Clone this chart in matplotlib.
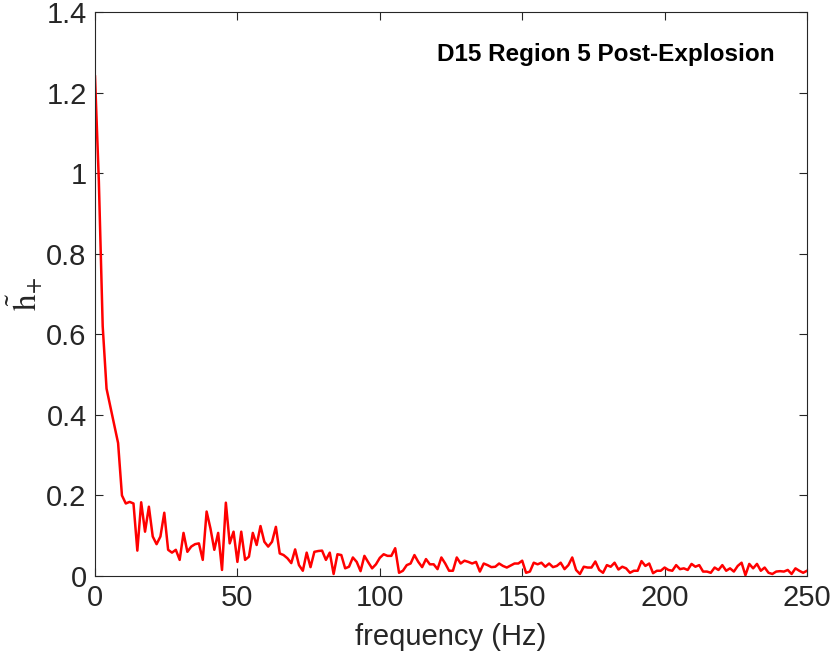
import numpy as np
import matplotlib
matplotlib.use("Agg")
import matplotlib.pyplot as plt

# spectrum amplitude, uniformly spaced 0..250 Hz
h_plus = [
    1.24, 0.98, 0.62, 0.465, 0.42, 0.375, 0.33, 0.20, 0.18, 0.184,
    0.180, 0.063, 0.183, 0.110, 0.172, 0.098, 0.079, 0.098, 0.157, 0.065,
    0.058, 0.065, 0.040, 0.107, 0.060, 0.073, 0.079, 0.081, 0.040, 0.160,
    0.118, 0.065, 0.107, 0.015, 0.182, 0.081, 0.110, 0.035, 0.110, 0.040,
    0.048, 0.107, 0.077, 0.124, 0.085, 0.073, 0.085, 0.122, 0.056, 0.052,
    0.044, 0.032, 0.066, 0.027, 0.013, 0.058, 0.022, 0.060, 0.062, 0.063,
    0.040, 0.058, 0.005, 0.054, 0.052, 0.019, 0.023, 0.046, 0.035, 0.012,
    0.050, 0.034, 0.019, 0.029, 0.045, 0.054, 0.050, 0.050, 0.069, 0.008,
    0.013, 0.027, 0.031, 0.052, 0.035, 0.022, 0.042, 0.029, 0.029, 0.017,
    0.046, 0.031, 0.013, 0.013, 0.046, 0.031, 0.038, 0.035, 0.031, 0.035,
    0.011, 0.031, 0.027, 0.022, 0.023, 0.031, 0.025, 0.021, 0.026, 0.031,
    0.031, 0.038, 0.008, 0.011, 0.033, 0.029, 0.033, 0.023, 0.031, 0.022,
    0.025, 0.033, 0.017, 0.027, 0.046, 0.015, 0.005, 0.023, 0.021, 0.021,
    0.036, 0.015, 0.008, 0.027, 0.023, 0.033, 0.016, 0.023, 0.019, 0.008,
    0.013, 0.013, 0.037, 0.025, 0.031, 0.007, 0.013, 0.013, 0.021, 0.015,
    0.013, 0.027, 0.017, 0.019, 0.015, 0.030, 0.023, 0.027, 0.011, 0.011,
    0.008, 0.021, 0.015, 0.027, 0.013, 0.019, 0.011, 0.025, 0.033, 0.002,
    0.030, 0.019, 0.030, 0.013, 0.021, 0.008, 0.005, 0.011, 0.012, 0.011,
    0.015, 0.005, 0.019, 0.013, 0.008, 0.013,
]
f_min, f_max = 0, 250
frequency = np.linspace(f_min, f_max, len(h_plus))

x_ticks = [0, 50, 100, 150, 200, 250]
y_ticks = [0, 0.2, 0.4, 0.6, 0.8, 1.0, 1.2, 1.4]
y_tick_labels = ["0", "0.2", "0.4", "0.6", "0.8", "1", "1.2", "1.4"]
title_text = "D15 Region 5 Post-Explosion"

plt.rcParams['font.family'] = ['Liberation Sans', 'DejaVu Sans']
plt.rcParams['mathtext.fontset'] = 'stix'

dark = '#262626'
fig = plt.figure(figsize=(8.3, 6.58), dpi=100)
ax = fig.add_axes([95/830, 1-576/658, (807-95)/830, (576-12)/658])

ax.plot(frequency, h_plus, color='#ff0000', lw=1.8)
ax.set_xlim(0, 250)
ax.set_ylim(0, 1.4)
ax.set_xticks(x_ticks)
ax.set_yticks(y_ticks)
ax.set_yticklabels(y_tick_labels)
ax.tick_params(direction='in', length=6, width=0.8, top=True, right=True,
               labelsize=21, colors=dark, pad=6)
for s in ax.spines.values():
    s.set_color(dark)
    s.set_linewidth(0.8)

ax.set_xlabel('frequency (Hz)', fontsize=21, color=dark, labelpad=8)
ax.set_ylabel(r'$\tilde{\mathrm{h}}_{+}$', fontsize=24, color=dark, labelpad=2)

ax.text(0.955, 0.925, title_text, transform=ax.transAxes, ha='right', va='center',
        fontsize=17.5, fontweight='bold', color='black')

fig.savefig('out.png', dpi=100)
